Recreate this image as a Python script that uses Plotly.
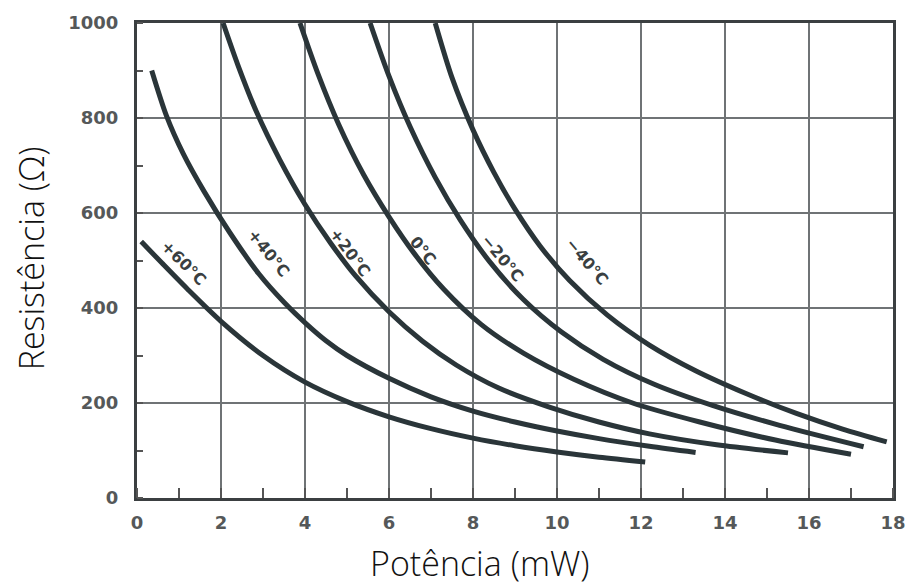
import plotly.graph_objects as go

# ---- data ----
p60_x = [0.1, 0.6, 1.2, 2.0, 3.0, 4.0, 5.0, 6.0, 7.0, 8.0, 9.0, 10.0, 11.0, 12.1]
p60_y = [540, 494, 440, 372, 300, 244, 203, 171, 146, 126, 110, 97, 86, 76]

p40_x = [0.35, 0.7, 1.1, 1.6, 2.2, 2.9, 3.5, 4.05, 4.5, 5.0, 6.0, 7.0, 8.0, 9.0, 10.0, 11.0, 12.2, 13.3]
p40_y = [900, 805, 725, 645, 560, 472, 412, 365, 331, 300, 252, 213, 183, 160, 141, 125, 109, 96]

p20_x = [2.05, 2.4, 2.85, 3.4, 4.0, 4.6, 5.2, 6.0, 6.8, 7.6, 8.6, 9.8, 11.0, 12.2, 13.8, 15.5]
p20_y = [1000, 912, 812, 712, 618, 538, 468, 392, 330, 280, 232, 192, 160, 135, 112, 95]

z0_x = [3.88, 4.3, 4.8, 5.4, 6.0, 6.6, 7.3, 8.2, 9.2, 10.4, 11.8, 13.4, 15.2, 17.0]
z0_y = [1000, 895, 787, 680, 592, 515, 440, 365, 305, 250, 200, 160, 122, 92]

m20_x = [5.55, 6.0, 6.5, 7.1, 7.7, 8.4, 9.2, 10.1, 11.1, 12.3, 13.7, 15.3, 17.3]
m20_y = [1000, 888, 782, 675, 585, 497, 418, 350, 292, 240, 195, 153, 108]

m40_x = [7.1, 7.5, 8.0, 8.5, 9.0, 9.6, 10.3, 11.2, 12.2, 13.3, 14.5, 15.7, 16.8, 17.85]
m40_y = [1000, 885, 775, 685, 608, 530, 458, 385, 322, 268, 220, 178, 145, 118]

series = [
    ("+60°C", p60_x, p60_y),
    ("+40°C", p40_x, p40_y),
    ("+20°C", p20_x, p20_y),
    ("0°C", z0_x, z0_y),
    ("−20°C", m20_x, m20_y),
    ("−40°C", m40_x, m40_y),
]

label_text = ["+60°C", "+40°C", "+20°C", "0°C", "−20°C", "−40°C"]
label_x = [1.10, 3.12, 5.07, 6.81, 8.71, 10.71]
label_y = [495, 516, 516, 522, 505, 497]
label_angle = [45, 51, 53, 51, 50, 50]

x_ticks = [0, 2, 4, 6, 8, 10, 12, 14, 16, 18]
y_ticks = [0, 200, 400, 600, 800, 1000]

CURVE = "#2a3539"
GRID = "#6f7375"
TICKFONT = dict(family="DejaVu Sans", size=18, color="#555859", weight="bold")
TITLEFONT = dict(family="Open Sans", size=34, color="#111", weight=300)

fig = go.Figure()
for name, xs, ys in series:
    fig.add_trace(go.Scatter(
        x=xs, y=ys, mode="lines", name=name,
        line=dict(color=CURVE, width=5, shape="spline", smoothing=0.8),
        showlegend=False, hoverinfo="skip",
    ))

for t, x, y, a in zip(label_text, label_x, label_y, label_angle):
    fig.add_annotation(x=x, y=y, text=t, showarrow=False, textangle=a,
                       font=dict(family="DejaVu Sans", size=16, color="#3a3f41", weight="bold"))

# axis titles
fig.add_annotation(xref="paper", yref="paper", x=0.454, y=-0.137, text="Potência (mW)",
                   showarrow=False, xanchor="center", yanchor="middle", font=TITLEFONT)
fig.add_annotation(xref="paper", yref="paper", x=-0.140, y=0.505, text="Resistência (Ω)",
                   showarrow=False, xanchor="center", yanchor="middle", textangle=-90, font=TITLEFONT)

fig.update_layout(
    width=909, height=587,
    margin=dict(l=137, r=16, t=23, b=89),
    paper_bgcolor="white", plot_bgcolor="white",
    xaxis=dict(
        range=[0, 18], tickvals=x_ticks, ticktext=[str(v) for v in x_ticks],
        showgrid=True, gridcolor=GRID, gridwidth=1.5, automargin=False,
        showline=True, linecolor="#3b3f41", linewidth=3, mirror=True,
        ticks="", zeroline=False, tickfont=TICKFONT, ticklabelstandoff=6,
        ticklabeloverflow="allow",
        minor=dict(dtick=1, tick0=1, ticks="inside", ticklen=10, tickcolor="#555", tickwidth=1.5, showgrid=False),
    ),
    yaxis=dict(
        range=[0, 1000], tickvals=y_ticks, ticktext=[str(v) for v in y_ticks],
        showgrid=True, gridcolor=GRID, gridwidth=1.5, automargin=False,
        showline=True, linecolor="#3b3f41", linewidth=3, mirror=True,
        ticks="", zeroline=False, tickfont=TICKFONT, ticklabelstandoff=12,
        ticklabeloverflow="allow",
        minor=dict(dtick=100, tick0=100, ticks="inside", ticklen=6, tickcolor="#555", tickwidth=1.5, showgrid=False),
    ),
)

# remove the default 8px page margin so the 909x587 figure fills the window exactly
fig.write_html("out.html",
               config={"displayModeBar": False},
               post_script="document.body.style.margin='0px';document.body.style.overflow='hidden';")
